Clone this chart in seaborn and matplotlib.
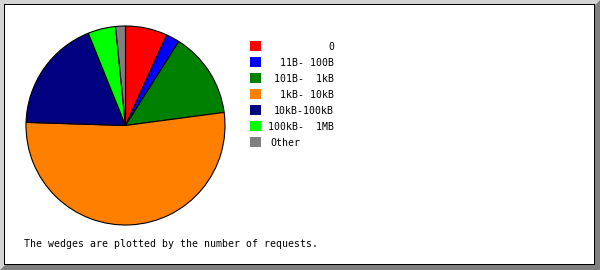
import matplotlib
matplotlib.use("Agg")
import matplotlib.pyplot as plt
from matplotlib.patches import Rectangle, Polygon
import seaborn as sns

categories = ["0", "11B- 100B", "101B-  1kB", "1kB- 10kB", "10kB-100kB", "100kB-  1MB", "Other"]
shares = [6.8, 2.2, 13.9, 52.6, 18.4, 4.5, 1.6]
colors = ["#ff0000", "#0000ff", "#008000", "#ff8000", "#000080", "#00ff00", "#808080"]
caption = "The wedges are plotted by the number of requests."

sns.set_theme(style="white")
plt.rcParams['font.family'] = ['DejaVu Sans Mono', 'DejaVu Sans']

W, H = 600, 270
fig = plt.figure(figsize=(W / 100, H / 100), dpi=100)
fig.patch.set_facecolor("white")

def px(x, y):
    return (x / W, 1 - y / H)

def rect(x0, y0, x1, y1, color):
    # pixel coords, y from top
    fig.add_artist(Rectangle((x0 / W, 1 - y1 / H), (x1 - x0) / W, (y1 - y0) / H,
                             transform=fig.transFigure, facecolor=color,
                             edgecolor="none", zorder=0))

# bevelled frame
fig.add_artist(Polygon([px(0, 0), px(600, 0), px(595, 5), px(5, 5), px(5, 265), px(0, 270)],
                       closed=True, transform=fig.transFigure, facecolor="#d4d4d4",
                       edgecolor="none", zorder=0))
fig.add_artist(Polygon([px(600, 0), px(600, 270), px(0, 270), px(5, 265), px(595, 265), px(595, 5)],
                       closed=True, transform=fig.transFigure, facecolor="#808080",
                       edgecolor="none", zorder=0))
rect(4, 4, 595, 5, "black")
rect(4, 4, 5, 265, "black")
rect(594, 5, 595, 265, "black")
rect(4, 264, 595, 265, "black")

# pie
ax = fig.add_axes([25 / W, 1 - 226 / H, 201 / W, 201 / H])
ax.pie(shares, colors=colors, startangle=90, counterclock=False,
       wedgeprops=dict(edgecolor="black", linewidth=0.8), radius=1.0)
ax.set_xlim(-1.01, 1.01)
ax.set_ylim(-1.01, 1.01)
ax.set_aspect("auto")
ax.axis("off")

# legend
for i, (lab, col) in enumerate(zip(categories, colors)):
    yc = 46 + 16 * i
    rect(250, yc - 5, 261, yc + 5, col)
    if lab == "Other":
        fig.text(270 / W, 1 - (yc + 0.5) / H, lab, ha="left", va="center",
                 fontsize=7.1, color="black")
    else:
        fig.text(334 / W, 1 - (yc + 0.5) / H, lab, ha="right", va="center",
                 fontsize=7.1, color="black")

fig.text(24 / W, 1 - 244 / H, caption, ha="left", va="center", fontsize=7.15, color="black")

fig.savefig("out.png", dpi=100, facecolor=fig.get_facecolor())
